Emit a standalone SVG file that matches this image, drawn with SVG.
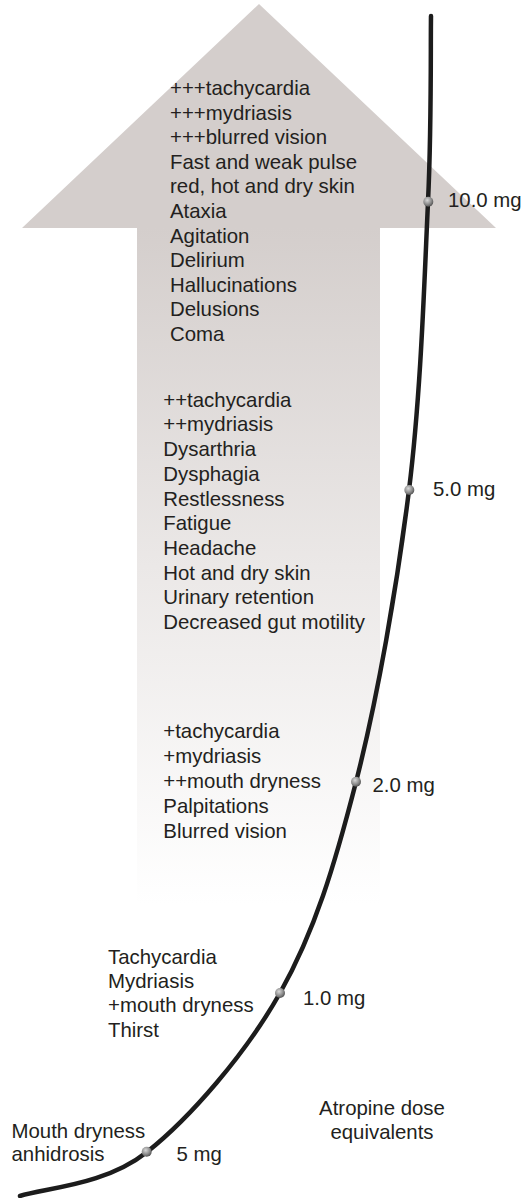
<svg xmlns="http://www.w3.org/2000/svg" width="524" height="1198" viewBox="0 0 524 1198">
<style>
  text { font-family: "Liberation Sans", Arial, sans-serif; font-size: 20.4px; fill: #231f20; }
  .curve { fill: none; stroke: #1c1c1c; stroke-width: 4.5; stroke-linecap: round; }
</style>
<defs>
  <linearGradient id="arrowGrad" gradientUnits="userSpaceOnUse" x1="0" y1="228" x2="0" y2="905">
    <stop offset="0" stop-color="#d4cecc"/>
    <stop offset="0.5" stop-color="#ebe8e7"/>
    <stop offset="1" stop-color="#ffffff"/>
  </linearGradient>
  <radialGradient id="dotGrad" cx="0.4" cy="0.35" r="0.7">
    <stop offset="0" stop-color="#d8d8d8"/>
    <stop offset="0.6" stop-color="#8a8a8a"/>
    <stop offset="1" stop-color="#4a4a4a"/>
  </radialGradient>
</defs>

<g id="arrow">
  <path d="M259,4 L496,228 L380,228 L380,905 L137,905 L137,228 L22,228 Z" fill="url(#arrowGrad)"/>
</g>

<g id="connectors">
  <path class="curve" d="M431,16 C430.5,47 431.7,123 428,202 C424.3,281 421,393.3 409,490 C397,586.7 377.5,698.2 356,782 C334.5,865.8 314.8,931.3 280,993 C245.2,1054.7 189.5,1118.3 147,1152 C104.5,1185.7 45.3,1187.8 20,1196"/>
</g>

<g id="dose-10mg">
  <circle cx="428.3" cy="201.7" r="5" fill="url(#dotGrad)"/>
  <text x="448" y="207">10.0 mg</text>
</g>
<g id="dose-5mg">
  <circle cx="409.3" cy="490" r="5" fill="url(#dotGrad)"/>
  <text x="433" y="496">5.0 mg</text>
</g>
<g id="dose-2mg">
  <circle cx="356" cy="781.7" r="5" fill="url(#dotGrad)"/>
  <text x="372.5" y="791.5">2.0 mg</text>
</g>
<g id="dose-1mg">
  <circle cx="280" cy="993" r="5" fill="url(#dotGrad)"/>
  <text x="303" y="1005">1.0 mg</text>
</g>
<g id="dose-05mg">
  <circle cx="146.7" cy="1151.7" r="5" fill="url(#dotGrad)"/>
  <text x="176.5" y="1161">5 mg</text>
</g>

<g id="symptoms-10mg">
  <text x="170" y="95">+++tachycardia</text>
  <text x="170" y="119.6">+++mydriasis</text>
  <text x="170" y="144.2">+++blurred vision</text>
  <text x="170" y="168.8">Fast and weak pulse</text>
  <text x="170" y="193.4">red, hot and dry skin</text>
  <text x="170" y="218">Ataxia</text>
  <text x="170" y="242.6">Agitation</text>
  <text x="170" y="267.2">Delirium</text>
  <text x="170" y="291.8">Hallucinations</text>
  <text x="170" y="316.4">Delusions</text>
  <text x="170" y="341">Coma</text>
</g>

<g id="symptoms-5mg">
  <text x="163.3" y="406.7">++tachycardia</text>
  <text x="163.3" y="431.4">++mydriasis</text>
  <text x="163.3" y="456.1">Dysarthria</text>
  <text x="163.3" y="480.8">Dysphagia</text>
  <text x="163.3" y="505.5">Restlessness</text>
  <text x="163.3" y="530.2">Fatigue</text>
  <text x="163.3" y="554.9">Headache</text>
  <text x="163.3" y="579.6">Hot and dry skin</text>
  <text x="163.3" y="604.3">Urinary retention</text>
  <text x="163.3" y="629">Decreased gut motility</text>
</g>

<g id="symptoms-2mg">
  <text x="163.3" y="738.3">+tachycardia</text>
  <text x="163.3" y="763.1">+mydriasis</text>
  <text x="163.3" y="787.9">++mouth dryness</text>
  <text x="163.3" y="812.7">Palpitations</text>
  <text x="163.3" y="837.5">Blurred vision</text>
</g>

<g id="symptoms-1mg">
  <text x="108" y="964">Tachycardia</text>
  <text x="108" y="988.2">Mydriasis</text>
  <text x="108" y="1012.4">+mouth dryness</text>
  <text x="108" y="1036.6">Thirst</text>
</g>

<g id="symptoms-05mg">
  <text x="11.5" y="1138.3">Mouth dryness</text>
  <text x="11.5" y="1161">anhidrosis</text>
</g>

<g id="caption">
  <text x="382" y="1115" text-anchor="middle">Atropine dose</text>
  <text x="382" y="1139.3" text-anchor="middle">equivalents</text>
</g>
</svg>
